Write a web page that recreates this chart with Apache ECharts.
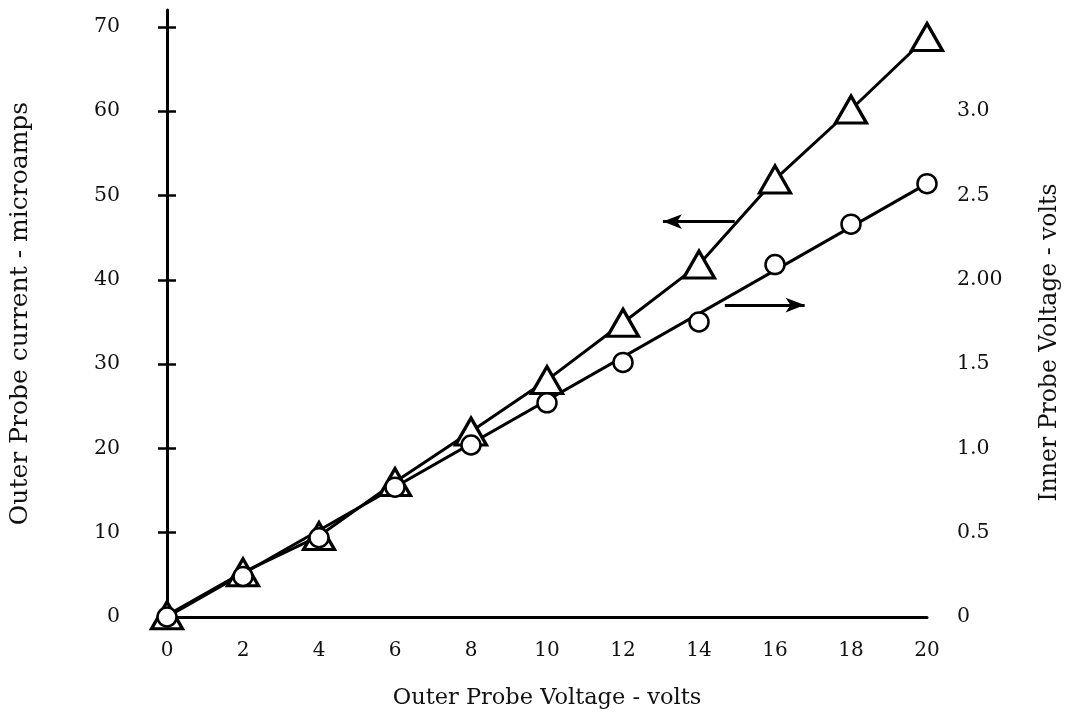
<!DOCTYPE html>
<html>
<head>
<meta charset="utf-8">
<script src="https://cdn.jsdelivr.net/npm/echarts@6/dist/echarts.min.js"></script>
<style>
html,body{margin:0;padding:0;background:#fff;}
#chart{width:1065px;height:716px;}
</style>
</head>
<body>
<div id="chart"></div>
<script>
// Data
var xValues = [0, 2, 4, 6, 8, 10, 12, 14, 16, 18, 20];
var currentTriangles = [0.2, 5.3, 9.6, 16.0, 22.0, 28.1, 34.9, 41.8, 51.9, 60.2, 68.8];   // left axis, microamps
var innerCircles = [0, 0.24, 0.47, 0.77, 1.02, 1.27, 1.51, 1.75, 2.09, 2.33, 2.57];       // right axis, volts
var circleFitLine = [[0, 0], [20, 2.57]];                                                   // straight line through circles
var leftTicks = [0, 10, 20, 30, 40, 50, 60, 70];
var rightTicks = [0, 0.5, 1.0, 1.5, 2.0, 2.5, 3.0];
var rightTickLabels = ['0', '0.5', '1.0', '1.5', '2.00', '2.5', '3.0'];
var xTicks = [0, 2, 4, 6, 8, 10, 12, 14, 16, 18, 20];
var xTickLabels = ['0', '2', '4', '6', '8', '10', '12', '14', '16', '18', '20'];
var arrowLeft = [[14.94, 46.9], [13.05, 46.9]];   // points to current (left axis)
var arrowRight = [[14.68, 37.0], [16.78, 37.0]];  // points to voltage (right axis)

var FONT = 'DejaVu Serif';
var chart = echarts.init(document.getElementById('chart'), null, {renderer: 'canvas'});

var option = {
  backgroundColor: '#ffffff',
  animation: false,
  grid: {left: 167, right: 138, top: 10, bottom: 99, containLabel: false, outerBoundsMode: 'none'},
  xAxis: {
    type: 'value', min: 0, max: 20,
    name: 'Outer Probe Voltage - volts', nameLocation: 'middle', nameGap: 70,
    nameTextStyle: {fontFamily: FONT, fontSize: 22.5, color: '#111'},
    axisLine: {show: true, lineStyle: {color: '#000', width: 3}},
    axisTick: {show: false},
    splitLine: {show: false},
    axisLabel: {
      customValues: xTicks, margin: 24,
      fontFamily: FONT, fontSize: 20, color: '#111',
      formatter: function (v) { var i = xTicks.indexOf(v); return i >= 0 ? xTickLabels[i] : ''; }
    }
  },
  yAxis: [
    {
      type: 'value', min: 0, max: 72, position: 'left',
      name: 'Outer Probe current - microamps', nameLocation: 'middle', nameGap: 134,
      nameTextStyle: {fontFamily: FONT, fontSize: 25, color: '#111'},
      axisLine: {show: true, lineStyle: {color: '#000', width: 3}},
      axisTick: {show: true, customValues: leftTicks, length: 9, lineStyle: {color: '#000', width: 2.5}},
      splitLine: {show: false},
      axisLabel: {customValues: leftTicks, margin: 47, fontFamily: FONT, fontSize: 20.5, color: '#111'}
    },
    {
      type: 'value', min: 0, max: 3.6, position: 'right',
      name: 'Inner Probe Voltage - volts', nameLocation: 'middle', nameGap: 111,
      nameTextStyle: {fontFamily: FONT, fontSize: 23.5, color: '#111', padding: [0, 58, 0, 0]},
      axisLine: {show: false},
      axisTick: {show: false},
      splitLine: {show: false},
      axisLabel: {
        customValues: rightTicks, margin: 30, align: 'left',
        fontFamily: FONT, fontSize: 20.5, color: '#111',
        formatter: function (v) {
          for (var i = 0; i < rightTicks.length; i++) { if (Math.abs(rightTicks[i] - v) < 1e-9) return rightTickLabels[i]; }
          return '';
        }
      }
    },
    {
      type: 'value', min: 0, max: 72, position: 'left',
      axisLine: {show: false},
      axisTick: {show: true, inside: true, customValues: leftTicks, length: 9, lineStyle: {color: '#000', width: 2.5}},
      axisLabel: {show: false},
      splitLine: {show: false}
    }
  ],
  series: [
    {
      name: 'fit', type: 'line', yAxisIndex: 1, z: 2,
      data: circleFitLine, symbol: 'none',
      lineStyle: {color: '#000', width: 3},
      silent: true
    },
    {
      name: 'current', type: 'line', yAxisIndex: 0, z: 3,
      data: xValues.map(function (x, i) { return [x, currentTriangles[i]]; }),
      symbol: 'triangle', symbolSize: [31, 27],
      itemStyle: {color: '#fff', borderColor: '#000', borderWidth: 3.2, opacity: 1},
      lineStyle: {color: '#000', width: 3},
      markLine: {
        silent: true, symbol: ['none', 'arrow'], symbolSize: [11, 19],
        label: {show: false},
        lineStyle: {color: '#000', width: 3, type: 'solid'},
        data: [
          [{coord: arrowLeft[0]}, {coord: arrowLeft[1]}],
          [{coord: arrowRight[0]}, {coord: arrowRight[1]}]
        ]
      }
    },
    {
      name: 'inner', type: 'scatter', yAxisIndex: 1, z: 4,
      data: xValues.map(function (x, i) { return [x, innerCircles[i]]; }),
      symbol: 'circle', symbolSize: 19,
      itemStyle: {color: '#fff', borderColor: '#000', borderWidth: 2.5, opacity: 1}
    }
  ]
};
chart.setOption(option);
</script>
</body>
</html>
